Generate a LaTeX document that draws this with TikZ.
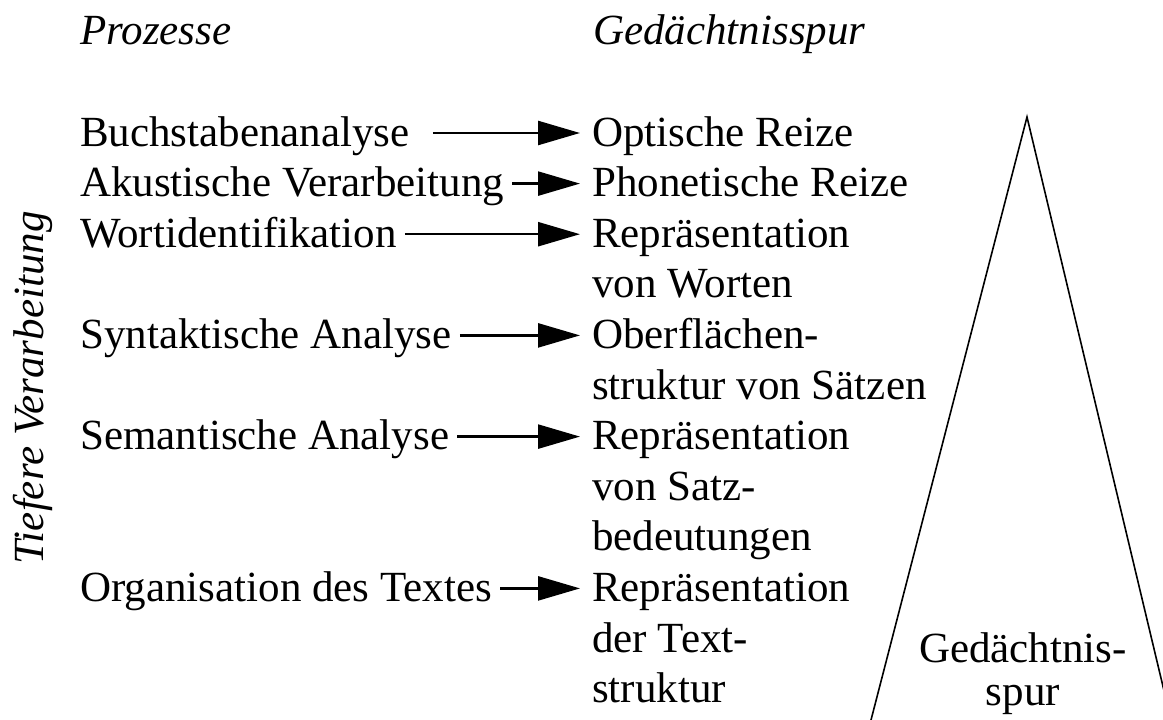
\documentclass[tikz,border=0pt]{standalone}
\usepackage{fontspec}
\setmainfont{Liberation Serif}
\usetikzlibrary{arrows.meta}

\begin{document}
\begin{tikzpicture}[x=1pt, y=-1pt, every node/.style={inner sep=0pt, font=\fontsize{43}{50.6}\selectfont}, >={Triangle[length=42pt, width=24pt]}, proc/.style={anchor=base west, inner xsep=8pt, text height=26pt, text depth=0pt}, spur/.style={anchor=base west, inner xsep=12pt, align=left}, head/.style={font=\fontsize{43}{50.6}\selectfont\itshape}]
\useasboundingbox (0,0) rectangle (1163,720);
\node[head, anchor=base west] (13) at (80, 45) {Prozesse};
\node[head, anchor=base west] (14) at (593, 45) {Gedächtnisspur};
\node[head, rotate=90, anchor=base] (15) at (43, 388) {Tiefere Verarbeitung};
\node[proc] (1) at (72, 146) {Buchstabenanalyse};
\node[proc] (2) at (72, 196.6) {Akustische Verarbeitung};
\node[proc] (3) at (72, 247.2) {Wortidentifikation};
\node[proc] (4) at (72, 348.4) {Syntaktische Analyse};
\node[proc] (5) at (72, 449.6) {Semantische Analyse};
\node[proc] (6) at (72, 601.4) {Organisation des Textes};
% base of a multi-line node = its last line
\node[spur] (7) at (580, 146) {Optische Reize};
\node[spur] (8) at (580, 196.6) {Phonetische Reize};
\node[spur] (9) at (580, 297.8) {Repräsentation\\von Worten};
\node[spur] (10) at (580, 399) {Oberflächen-\\struktur von Sätzen};
\node[spur] (11) at (580, 550.8) {Repräsentation\\von Satz-\\bedeutungen};
\node[spur] (12) at (580, 702.6) {Repräsentation\\der Text-\\struktur};
\draw[line width=2.5pt, ->, shorten <=15pt] (1.east) -- (7.west |- 1.east);
\draw[line width=2.5pt, ->] (2.east) -- (8.west |- 2.east);
\draw[line width=2.5pt, ->] (3.east) -- (9.west |- 3.east);
\draw[line width=2.5pt, ->] (4.east) -- (10.west |- 4.east);
\draw[line width=2.5pt, ->] (5.east) -- (11.west |- 5.east);
\draw[line width=2.5pt, ->] (6.east) -- (12.west |- 6.east);
% Gedaechtnisspur
\begin{scope}
\clip (0,0) rectangle (1163,720);
\draw[line width=1.6pt] (871,720) -- (1027,117) -- (1171,720);
\end{scope}
\node[align=center, anchor=base, font=\fontsize{43}{43}\selectfont] (16) at (1023, 705) {Gedächtnis-\\spur};
\end{tikzpicture}
\end{document}
